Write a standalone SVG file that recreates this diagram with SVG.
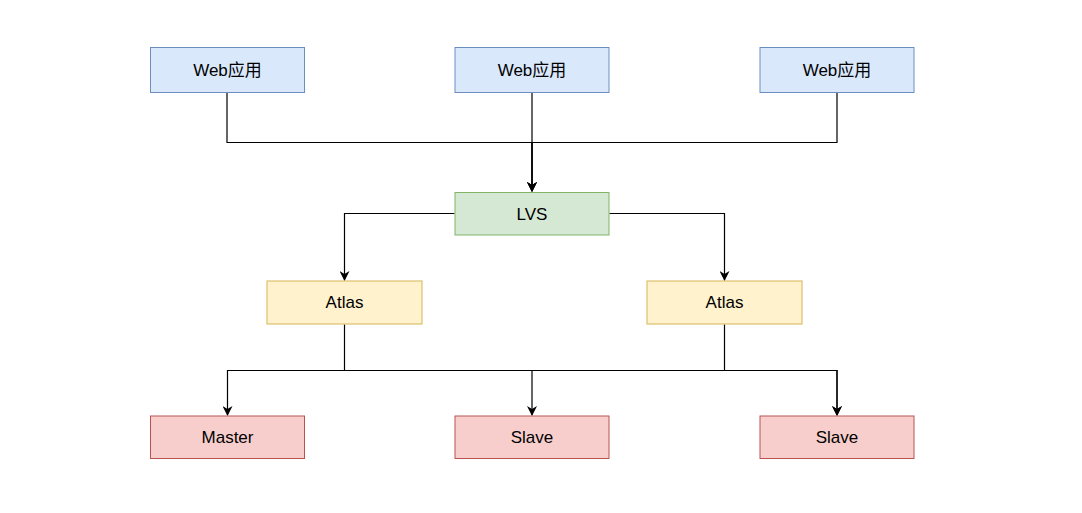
<svg xmlns="http://www.w3.org/2000/svg" width="1082" height="513" viewBox="0 0 1082 513">
<style>
.web{fill:#dae8fc;stroke:#6c8ebf;stroke-width:1}
.lvs{fill:#d5e8d4;stroke:#82b366;stroke-width:1}
.atl{fill:#fff2cc;stroke:#d6b656;stroke-width:1}
.db{fill:#f8cecc;stroke:#b85450;stroke-width:1}
text{font-family:"Liberation Sans","Noto Sans CJK SC",Arial,sans-serif;font-size:17px;fill:#000;text-anchor:middle;dominant-baseline:central}
.c{fill:none;stroke:#000;stroke-width:1.2}
</style>
<defs>
<marker id="arr" viewBox="0 0 10 10" refX="9" refY="5" markerWidth="10" markerHeight="10" markerUnits="userSpaceOnUse" orient="auto">
<path d="M0,0 L10,5 L0,10 L3,5 Z" fill="#000"/>
</marker>
</defs>
<rect width="1082" height="513" fill="#fff"/>
<g id="connectors">
<path class="c" d="M227,92.5 V142.5 H532 V191" marker-end="url(#arr)"/>
<path class="c" d="M532,92.5 V191" marker-end="url(#arr)"/>
<path class="c" d="M837,92.5 V142.5 H532 V191" marker-end="url(#arr)"/>
<path class="c" d="M454.5,213.5 H344.5 V280" marker-end="url(#arr)"/>
<path class="c" d="M609.5,213.5 H724.5 V280" marker-end="url(#arr)"/>
<path class="c" d="M344.5,324.5 V370.5 H227.5 V415" marker-end="url(#arr)"/>
<path class="c" d="M344.5,370.5 H532 V415" marker-end="url(#arr)"/>
<path class="c" d="M344.5,370.5 H837 V415" marker-end="url(#arr)"/>
<path class="c" d="M724.5,324.5 V370.5 H837 V415" marker-end="url(#arr)"/>
</g>
<g id="web1"><rect class="web" x="150.5" y="47.5" width="154" height="45"/><text x="227.5" y="70">Web应用</text></g>
<g id="web2"><rect class="web" x="455" y="47.5" width="154" height="45"/><text x="532" y="70">Web应用</text></g>
<g id="web3"><rect class="web" x="760" y="47.5" width="154" height="45"/><text x="837" y="70">Web应用</text></g>
<g id="lvs"><rect class="lvs" x="455" y="192.5" width="154" height="42.5"/><text x="532" y="214">LVS</text></g>
<g id="atlas1"><rect class="atl" x="267" y="281" width="155" height="43"/><text x="344.5" y="302.5">Atlas</text></g>
<g id="atlas2"><rect class="atl" x="647" y="281" width="155" height="43"/><text x="724.5" y="302.5">Atlas</text></g>
<g id="master"><rect class="db" x="150.5" y="416" width="154" height="42.5"/><text x="227.5" y="437.5">Master</text></g>
<g id="slave1"><rect class="db" x="455" y="416" width="154" height="42.5"/><text x="532" y="437.5">Slave</text></g>
<g id="slave2"><rect class="db" x="760" y="416" width="154" height="42.5"/><text x="837" y="437.5">Slave</text></g>
</svg>
